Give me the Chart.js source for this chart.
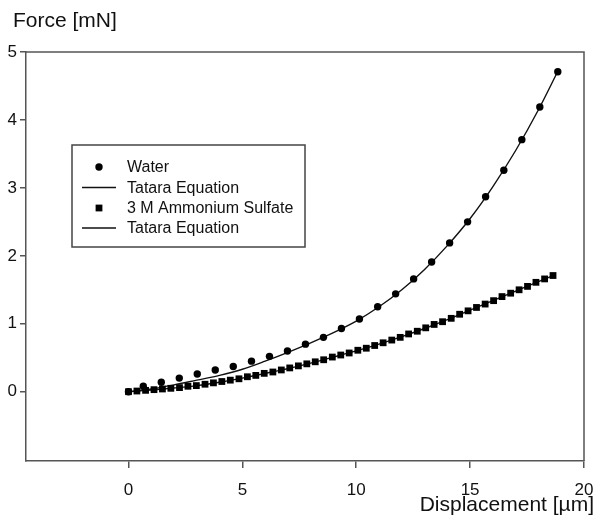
<!DOCTYPE html>
<html><head><meta charset="utf-8">
<script src="https://cdn.jsdelivr.net/npm/chart.js@4.4.1/dist/chart.umd.min.js"></script>
<style>html,body{margin:0;padding:0;background:#fff}#wrap{width:596px;height:515px;position:relative}</style>
</head><body><div id="wrap"><canvas id="c" width="596" height="515"></canvas></div>
<script>
const waterX = [0, 0.65, 1.44, 2.23, 3.02, 3.81, 4.60, 5.40, 6.19, 6.98, 7.77, 8.56, 9.35, 10.14, 10.94, 11.73, 12.52, 13.31, 14.10, 14.89, 15.68, 16.48, 17.27, 18.06, 18.85];
const waterY = [0, 0.08, 0.14, 0.20, 0.26, 0.32, 0.37, 0.45, 0.52, 0.60, 0.70, 0.80, 0.93, 1.07, 1.25, 1.44, 1.66, 1.91, 2.19, 2.50, 2.87, 3.26, 3.71, 4.19, 4.71];
const waterFitX = [0, 1, 2, 3, 4, 5, 6, 7, 8, 9, 10, 11, 12, 13, 14, 15, 16, 17, 18, 18.9];
const waterFitY = [0, 0.04, 0.10, 0.17, 0.24, 0.33, 0.45, 0.58, 0.72, 0.87, 1.04, 1.25, 1.50, 1.80, 2.15, 2.55, 3.02, 3.55, 4.15, 4.75];
const sulfateX = [0.00, 0.37, 0.75, 1.12, 1.49, 1.86, 2.24, 2.61, 2.98, 3.36, 3.73, 4.10, 4.47, 4.85, 5.22, 5.59, 5.96, 6.34, 6.71, 7.08, 7.46, 7.83, 8.20, 8.57, 8.95, 9.32, 9.69, 10.07, 10.44, 10.81, 11.18, 11.56, 11.93, 12.30, 12.68, 13.05, 13.42, 13.79, 14.17, 14.54, 14.91, 15.28, 15.66, 16.03, 16.40, 16.78, 17.15, 17.52, 17.89, 18.27, 18.64];
const sulfateY = [0.00, 0.01, 0.02, 0.03, 0.04, 0.05, 0.06, 0.08, 0.09, 0.11, 0.13, 0.15, 0.17, 0.19, 0.22, 0.24, 0.27, 0.29, 0.32, 0.35, 0.38, 0.41, 0.44, 0.47, 0.51, 0.54, 0.57, 0.61, 0.64, 0.68, 0.72, 0.76, 0.80, 0.85, 0.89, 0.94, 0.99, 1.03, 1.08, 1.14, 1.19, 1.24, 1.29, 1.34, 1.40, 1.45, 1.50, 1.55, 1.61, 1.66, 1.71];
const sulfateFitX = [0, 1, 2, 3, 4, 5, 6, 7, 8, 9, 10, 11, 12, 13, 14, 15, 16, 17, 18, 18.64];
const sulfateFitY = [0, 0.025, 0.055, 0.09, 0.14, 0.20, 0.27, 0.34, 0.42, 0.51, 0.60, 0.70, 0.81, 0.93, 1.06, 1.20, 1.34, 1.48, 1.62, 1.71];
const seriesLabels = ['Water', 'Tatara Equation', '3 M Ammonium Sulfate', 'Tatara Equation'];
const xTicks = [0, 5, 10, 15, 20];
const yTicks = [0, 1, 2, 3, 4, 5];
const xTitle = 'Displacement [µm]';
const yTitle = 'Force [mN]';

const FONT = "'Liberation Sans', Arial, Helvetica, sans-serif";
const AXIS = '#555';
const pts = (xs, ys) => xs.map((x, i) => ({x: x, y: ys[i]}));

const framePlugin = {
  id: 'frame',
  afterDraw(chart) {
    const ctx = chart.ctx, a = chart.chartArea;
    ctx.save();
    ctx.strokeStyle = AXIS; ctx.lineWidth = 1.5;
    ctx.beginPath();
    ctx.moveTo(a.left, a.top); ctx.lineTo(a.right, a.top); ctx.lineTo(a.right, a.bottom);
    ctx.stroke();
    ctx.fillStyle = '#111';
    ctx.font = '21px ' + FONT;
    ctx.textBaseline = 'alphabetic';
    ctx.textAlign = 'left';
    ctx.fillText(yTitle, 13, 27);
    ctx.textAlign = 'right';
    ctx.fillText(xTitle, 594, 511);
    const bx = 72, by = 145, bw = 233, bh = 102;
    ctx.fillStyle = '#fff';
    ctx.fillRect(bx, by, bw, bh);
    ctx.strokeStyle = '#444'; ctx.lineWidth = 1.5;
    ctx.strokeRect(bx, by, bw, bh);
    ctx.font = '16px ' + FONT;
    ctx.textAlign = 'left'; ctx.textBaseline = 'middle';
    const rows = [167, 187.5, 208, 228];
    chart.data.datasets.forEach((ds, i) => {
      const y = rows[i];
      if (ds.showLine) {
        ctx.strokeStyle = ds.borderColor; ctx.lineWidth = ds.borderWidth;
        ctx.beginPath(); ctx.moveTo(82, y); ctx.lineTo(116, y); ctx.stroke();
      } else {
        ctx.fillStyle = ds.pointBackgroundColor;
        Chart.helpers.drawPoint(ctx, {pointStyle: ds.pointStyle, radius: ds.pointRadius, borderWidth: 0, rotation: 0}, 99, y);
      }
      ctx.fillStyle = '#111';
      ctx.fillText(ds.label, 127, y + 1);
    });
    ctx.restore();
  }
};

new Chart(document.getElementById('c'), {
  type: 'scatter',
  data: {
    datasets: [
      {label: seriesLabels[0], data: pts(waterX, waterY), showLine: false, pointStyle: 'circle', pointRadius: 3.7, pointBackgroundColor: '#000', pointBorderWidth: 0, order: 0},
      {label: seriesLabels[1], data: pts(waterFitX, waterFitY), showLine: true, pointRadius: 0, borderColor: '#111', borderWidth: 1.4, cubicInterpolationMode: 'monotone', fill: false, order: 1},
      {label: seriesLabels[2], data: pts(sulfateX, sulfateY), showLine: false, pointStyle: 'rect', pointRadius: 4.8, pointBackgroundColor: '#000', pointBorderWidth: 0, order: 0},
      {label: seriesLabels[3], data: pts(sulfateFitX, sulfateFitY), showLine: true, pointRadius: 0, borderColor: '#111', borderWidth: 1.4, cubicInterpolationMode: 'monotone', fill: false, order: 1}
    ]
  },
  options: {
    responsive: false, animation: false, devicePixelRatio: 1,
    layout: {padding: {top: 52, right: 12, left: 0, bottom: 0}},
    plugins: {legend: {display: false}, tooltip: {enabled: false}, title: {display: false}},
    scales: {
      x: {
        type: 'linear', min: -4.5, max: 20,
        afterBuildTicks: s => { s.ticks = xTicks.map(v => ({value: v})); },
        afterFit: s => { s.height = 54; s.paddingLeft = 0; s.paddingRight = 0; },
        grid: {drawOnChartArea: false, drawTicks: true, tickLength: 7, color: AXIS, lineWidth: 1.5},
        border: {display: true, color: AXIS, width: 1.5},
        ticks: {font: {family: FONT, size: 17}, color: '#111', padding: 12, maxRotation: 0, autoSkip: false}
      },
      y: {
        type: 'linear', min: -1.02, max: 5,
        afterBuildTicks: s => { s.ticks = yTicks.map(v => ({value: v})); },
        afterFit: s => { s.width = 26; s.paddingTop = 0; s.paddingBottom = 0; },
        grid: {drawOnChartArea: false, drawTicks: true, tickLength: 6, color: AXIS, lineWidth: 1.5},
        border: {display: true, color: AXIS, width: 1.5},
        ticks: {font: {family: FONT, size: 17}, color: '#111', padding: 3, autoSkip: false}
      }
    }
  },
  plugins: [framePlugin]
});
</script>
</body></html>
